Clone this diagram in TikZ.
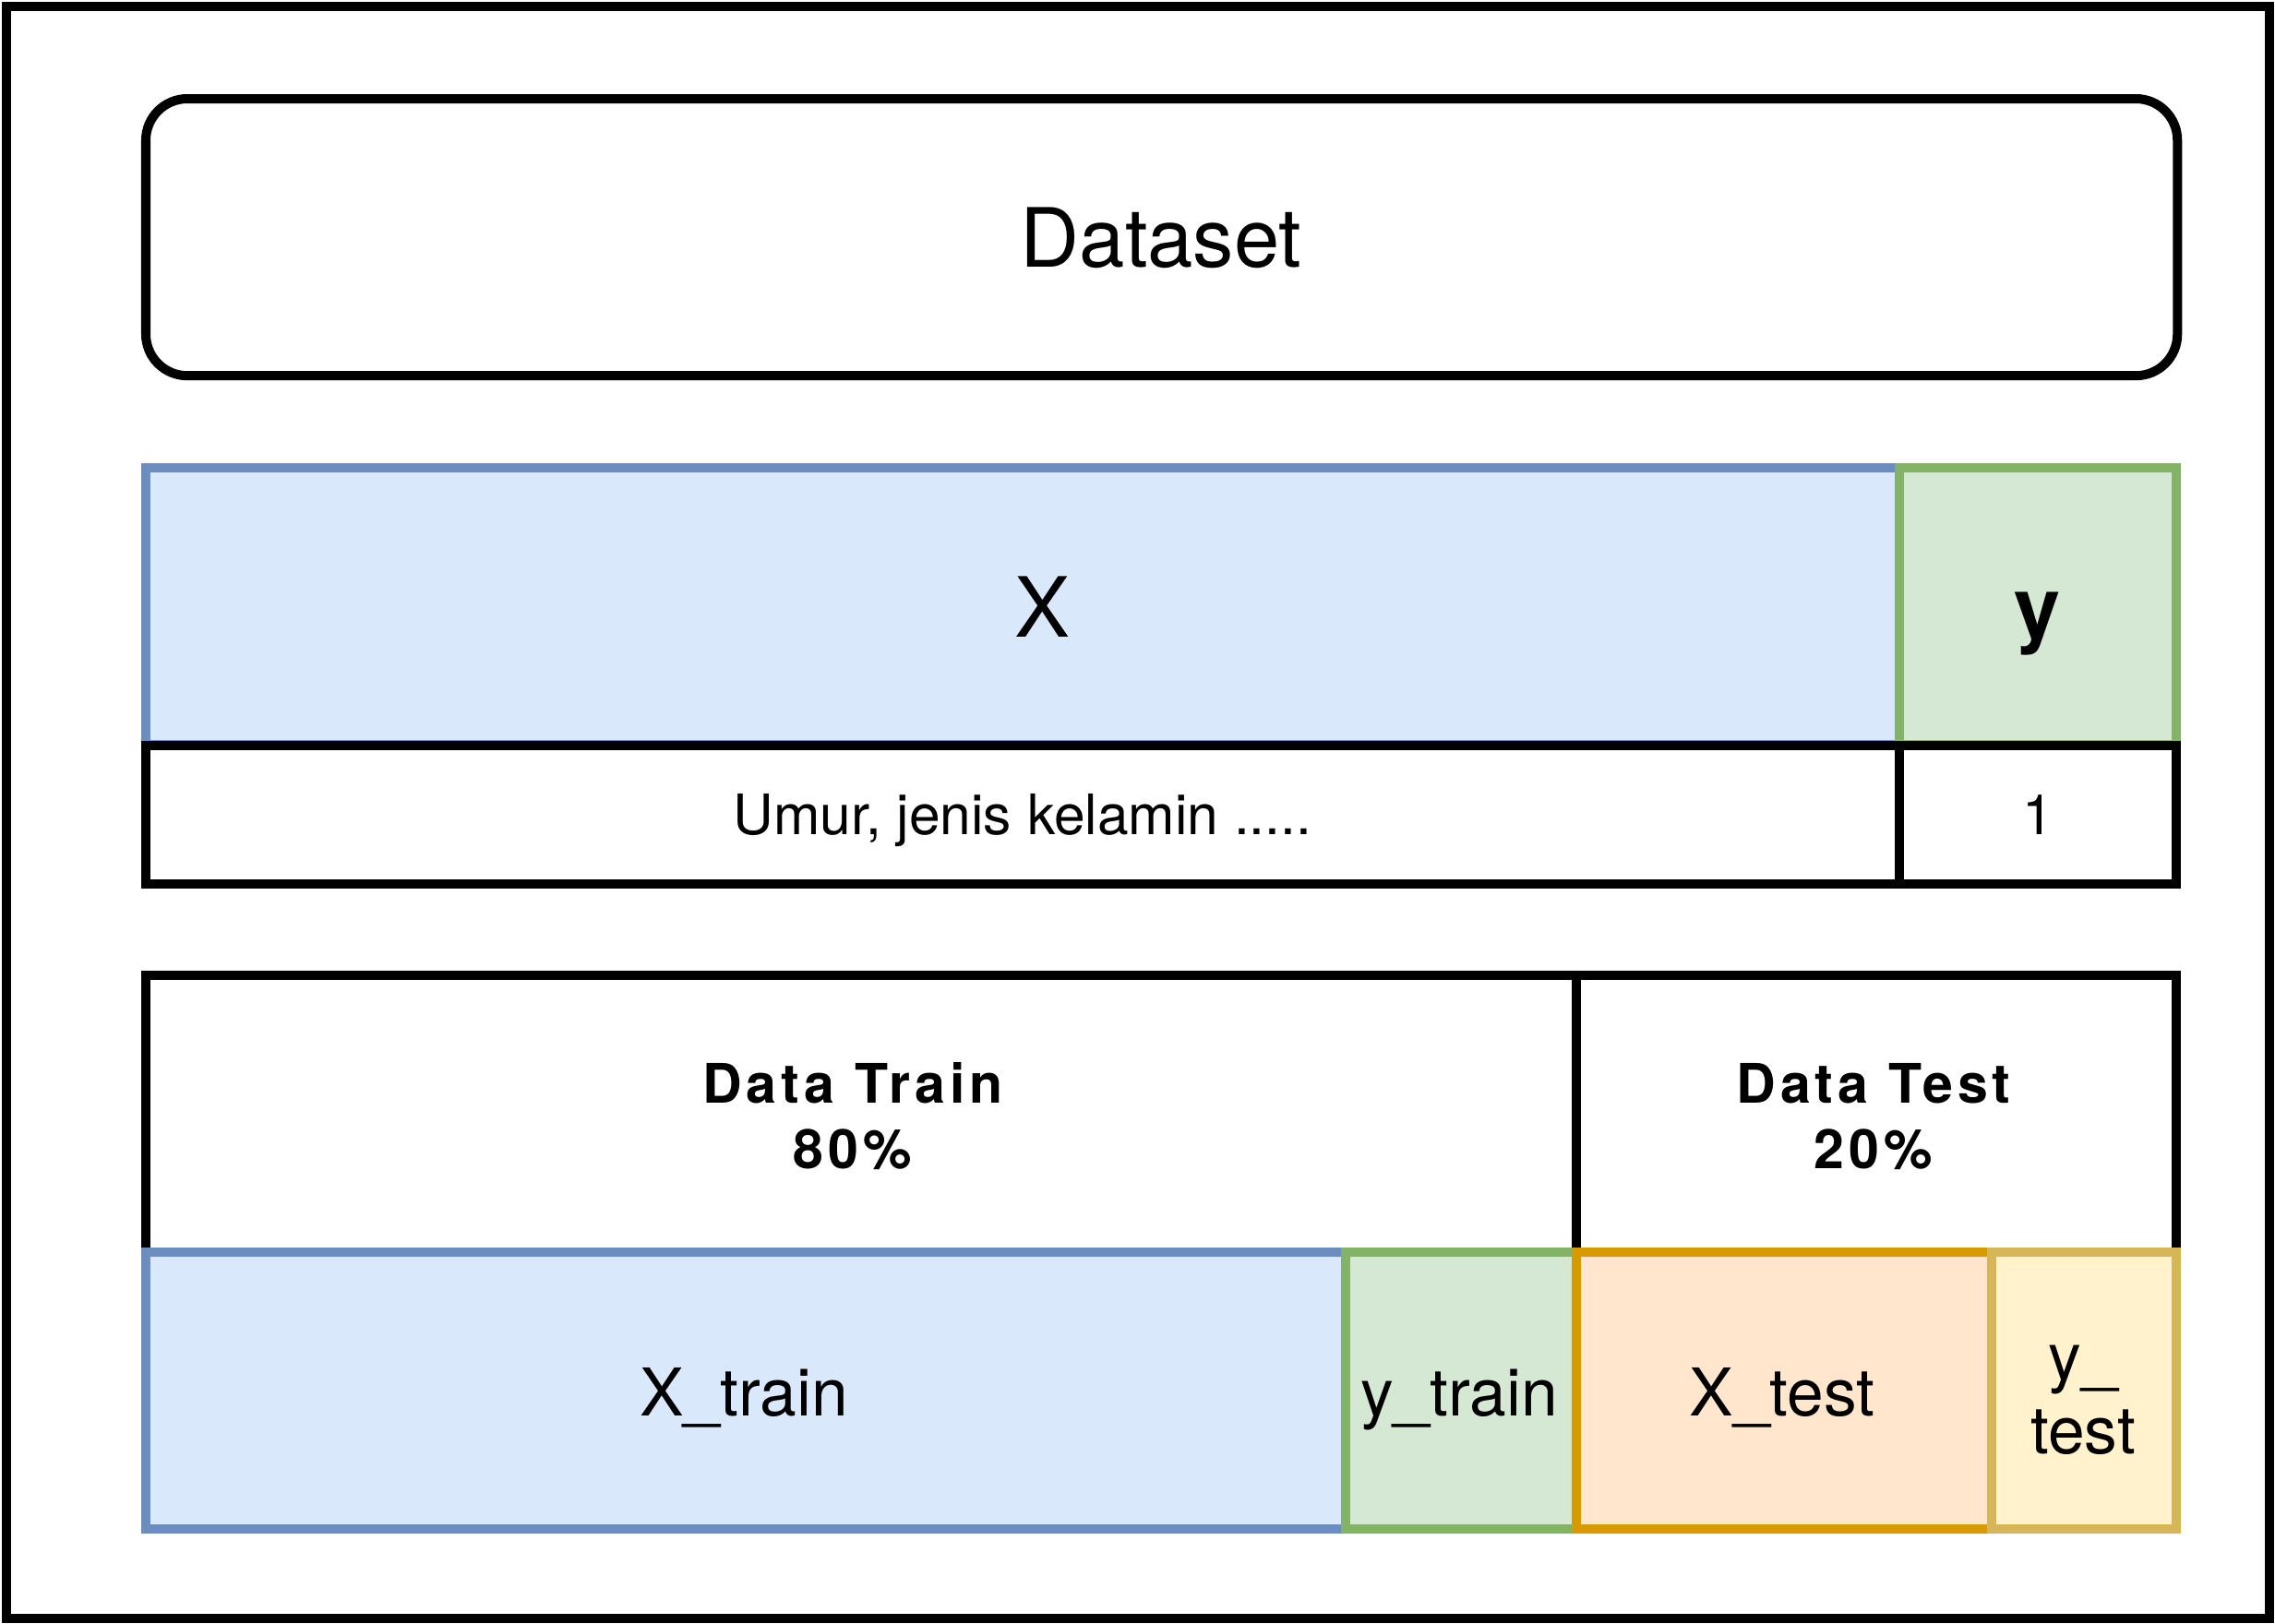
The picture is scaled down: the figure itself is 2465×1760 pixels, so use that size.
\documentclass[tikz,border=0pt]{standalone}
\usepackage{fontspec}
\setmainfont{TeX Gyre Heros}
\definecolor{bluefill}{HTML}{DAE8FC}
\definecolor{bluedraw}{HTML}{6C8EBF}
\definecolor{greenfill}{HTML}{D5E8D4}
\definecolor{greendraw}{HTML}{82B366}
\definecolor{orangefill}{HTML}{FFE6CC}
\definecolor{orangedraw}{HTML}{D79B00}
\definecolor{yellowfill}{HTML}{FFF2CC}
\definecolor{yellowdraw}{HTML}{D6B656}
\tikzset{
  cell/.style={draw=black, line width=0.1cm, fill=white, inner sep=0pt, outer sep=0pt, anchor=north west},
  bluecell/.style={cell, draw=bluedraw, fill=bluefill},
  greencell/.style={cell, draw=greendraw, fill=greenfill},
  orangecell/.style={cell, draw=orangedraw, fill=orangefill},
  yellowcell/.style={cell, draw=yellowdraw, fill=yellowfill},
  lbl/.style={inner sep=0pt, anchor=base},
  bigtxt/.style={lbl, font=\fontsize{25.6}{30.7}\selectfont},
  midtxt/.style={lbl, font=\fontsize{20.3}{22.8}\selectfont},
  smalltxt/.style={lbl, font=\fontsize{17.2}{20.2}\selectfont},
  spacedbold/.style={inner sep=0pt, align=center, font=\fontsize{16.8}{20.2}\selectfont\bfseries\addfontfeature{LetterSpace=8.5}},
}
\begin{document}
\begin{tikzpicture}[x=0.01cm, y=-0.01cm]
\useasboundingbox (0,0) rectangle (2465,1760);
% outer frame
\node[cell, minimum width=24.51cm, minimum height=17.46cm] (frame) at (7,7) {};
% dataset
\node[cell, rounded corners=0.45cm, minimum width=22cm, minimum height=3cm] (dataset) at (158,107) {};
\node[lbl, font=\fontsize{25.2}{30.2}\selectfont] (datasettxt) at (1258,289) {Dataset};
% X and y
\node[bluecell, minimum width=19cm, minimum height=3cm] (xbox) at (158,507) {};
\node[greencell, minimum width=3cm, minimum height=3cm] (ybox) at (2058,507) {};
\node[bigtxt] (xtxt) at (1130,690) {X};
\node[bigtxt, font=\fontsize{25.6}{30.7}\selectfont\bfseries] (ytxt) at (2208,690) {y};
% feature row
\node[cell, minimum width=19cm, minimum height=1.5cm] (featrow) at (158,807.5) {};
\node[cell, minimum width=3cm, minimum height=1.5cm] (labelrow) at (2058,807.5) {};
\node[smalltxt] (feattxt) at (1108,904) {Umur, jenis kelamin .....};
\node[smalltxt] (labeltxt) at (2208,904) {1};
% train / test split
\node[cell, minimum width=15.5cm, minimum height=3cm] (trainbox) at (158,1057) {};
\node[cell, minimum width=6.5cm, minimum height=3cm] (testbox) at (1708,1057) {};
\node[spacedbold] (traintxt) at (924,1210) {Data Train\\80\%};
\node[spacedbold] (testtxt) at (2030,1210) {Data Test\\20\%};
% bottom cells
\node[bluecell, minimum width=13cm, minimum height=3cm] (xtrain) at (158,1357) {};
\node[greencell, minimum width=2.5cm, minimum height=3cm] (ytrain) at (1458,1357) {};
\node[orangecell, minimum width=4.5cm, minimum height=3cm] (xtest) at (1708,1357) {};
\node[yellowcell, minimum width=2cm, minimum height=3cm] (ytest) at (2158,1357) {};
\node[midtxt] (xtraintxt) at (806,1534) {X\_train};
\node[midtxt] (ytraintxt) at (1581,1534) {y\_train};
\node[midtxt] (xtesttxt) at (1931,1534) {X\_test};
\node[inner sep=0pt, align=center, font=\fontsize{20.3}{22.8}\selectfont] (ytesttxt) at (2257,1517) {y\_\\test};
\end{tikzpicture}
\end{document}
